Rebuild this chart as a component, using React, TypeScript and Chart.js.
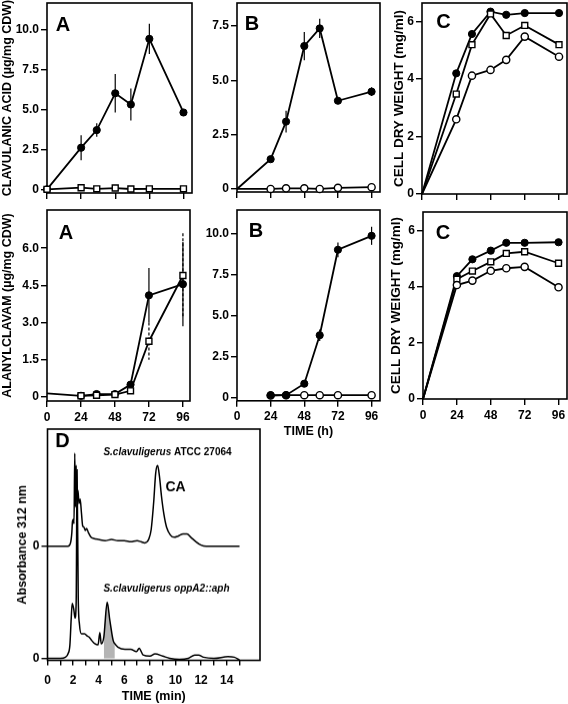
import React, { useEffect, useRef } from "react";
import { Chart, registerables } from "chart.js";

Chart.register(...registerables);

const FONT = '"Liberation Sans", Arial, Helvetica, sans-serif';
Chart.defaults.color = "#000";
Chart.defaults.font.family = FONT;

// ---------------- data ----------------
const HOURS = [0, 24, 35, 48, 59, 72, 96];
const HOUR_TICKS = [0, 24, 48, 72, 96];
const HOUR_LABELS = ["0", "24", "48", "72", "96"];
const NO_LABELS = ["", "", "", "", ""];

// Top row A: clavulanic acid
const TOP_A_WT = [0, 2.6, 3.7, 6.0, 5.3, 9.4, 4.8];
const TOP_A_WT_ERR = [0, 0.78, 0.42, 1.2, 1.0, 0.94, 0];
const TOP_A_MUT = [0, 0.1, 0.03, 0.08, 0.02, 0.03, 0.03];
const TOP_A_TICKS = [0, 2.5, 5, 7.5, 10];
const TOP_A_LABELS = ["0", "2.5", "5.0", "7.5", "10.0"];

// Top row B
const TOP_B_WT = [0, 1.37, 3.1, 6.58, 7.39, 4.06, 4.48];
const TOP_B_WT_ERR = [0, 0, 0.5, 0.65, 0.44, 0, 0.2];
const TOP_B_MUT = [0, 0, 0.03, 0.03, 0, 0.05, 0.08];
const TOP_B_TICKS = [0, 2.5, 5, 7.5];
const TOP_B_LABELS = ["0", "2.5", "5.0", "7.5"];

// Top row C: cell dry weight
const TOP_C_FILLED = [0, 4.2, 5.57, 6.35, 6.24, 6.3, 6.3];
const TOP_C_SQUARE = [0, 3.48, 5.2, 6.27, 5.52, 5.87, 5.2];
const TOP_C_OPEN = [0, 2.6, 4.12, 4.32, 4.67, 5.48, 4.78];
const CDW_TICKS = [0, 2, 4, 6];
const CDW_LABELS = ["0", "2", "4", "6"];

// Bottom row A: alanylclavam
const BOT_A_WT = [0.15, 0.05, 0.12, 0.12, 0.5, 4.1, 4.55];
const BOT_A_WT_ERR = [0, 0, 0, 0, 0, 1.1, 1.7];
const BOT_A_MUT = [null, 0.05, 0.07, 0.1, 0.25, 2.25, 4.9];
const BOT_A_MUT_ERR = [0, 0, 0, 0, 0, 0.75, 1.7];
const BOT_A_TICKS = [0, 1.5, 3, 4.5, 6];
const BOT_A_LABELS = ["0", "1.5", "3.0", "4.5", "6.0"];

// Bottom row B
const BOT_B_WT = [null, 0.15, 0.15, 0.85, 3.8, 9.0, 9.85];
const BOT_B_WT_ERR = [0, 0, 0, 0, 0.35, 0.45, 0.55];
const BOT_B_MUT = [null, 0.13, 0.15, 0.15, 0.15, 0.15, 0.15];
const BOT_B_TICKS = [0, 2.5, 5, 7.5, 10];
const BOT_B_LABELS = ["0", "2.5", "5.0", "7.5", "10.0"];

// Bottom row C
const BOT_C_FILLED = [0, 4.39, 4.99, 5.3, 5.58, 5.58, 5.6];
const BOT_C_SQUARE = [0, 4.28, 4.57, 4.9, 5.2, 5.26, 4.85];
const BOT_C_OPEN = [0, 4.07, 4.23, 4.58, 4.67, 4.72, 3.99];

// Panel D: HPLC traces
const D_TOP_T = [0, 1.0, 1.6, 1.8, 1.9, 1.95, 2.02, 2.07, 2.13, 2.18, 2.24, 2.3, 2.38, 2.46, 2.55, 2.65, 2.75, 2.85, 2.95, 3.05, 3.2, 3.4, 3.6, 4.0, 4.5, 5.0, 5.5, 6.0, 6.5, 7.0, 7.3, 7.6, 7.9, 8.1, 8.3, 8.45, 8.6, 8.75, 8.9, 9.1, 9.3, 9.6, 9.9, 10.2, 10.6, 10.9, 11.2, 11.6, 12.0, 12.4, 15.0];
const D_TOP_ABS = [0, 0, 0, 0.03, 0.12, 0.22, 0.24, 0.2, 0.83, 0.35, 0.72, 0.4, 0.5, 0.38, 0.42, 0.3, 0.18, 0.17, 0.14, 0.16, 0.12, 0.08, 0.07, 0.06, 0.05, 0.06, 0.05, 0.05, 0.04, 0.05, 0.04, 0.03, 0.06, 0.15, 0.4, 0.65, 0.72, 0.62, 0.45, 0.28, 0.17, 0.1, 0.08, 0.09, 0.11, 0.11, 0.08, 0.04, 0.01, 0, 0];
const D_TOP_OFFSET = 1.0;
const D_BOT_T = [0, 1.0, 1.4, 1.6, 1.75, 1.85, 1.93, 2.05, 2.15, 2.24, 2.31, 2.4, 2.5, 2.65, 2.9, 3.1, 3.25, 3.45, 3.7, 3.95, 4.09, 4.2, 4.4, 4.66, 4.87, 5.13, 5.26, 5.5, 6.05, 6.5, 6.95, 7.16, 7.47, 8.0, 8.4, 9.0, 9.55, 10.3, 11.0, 11.5, 11.8, 12.2, 13.0, 14.1, 14.6, 15.0];
const D_BOT_ABS = [0, 0, 0.01, 0.04, 0.12, 0.35, 0.49, 0.44, 0.36, 0.5, 1.68, 0.55, 0.3, 0.22, 0.22, 0.2, 0.19, 0.16, 0.13, 0.12, 0.23, 0.13, 0.19, 0.5, 0.34, 0.16, 0.13, 0.1, 0.08, 0.08, 0.06, 0.09, 0.03, 0.02, 0.04, 0.02, 0, -0.01, 0, 0.03, 0.03, 0.01, 0, 0.015, 0.01, -0.015];
const D_SHADE_FROM = 4.4;
const D_SHADE_TO = 5.26;
const D_X_TICKS = [0, 1, 2, 3, 4, 5, 6, 7, 8, 9, 10, 11, 12, 13, 14, 15];
const D_X_LABELS = ["0", "", "2", "", "4", "", "6", "", "8", "", "10", "", "12", "", "14", ""];
const D_Y_TICKS = [0, 1];
const D_Y_LABELS = ["0", "0"];

// ---------------- text ----------------
const T_CA = "CLAVULANIC ACID (\u00b5g/mg CDW)";
const T_AC = "ALANYLCLAVAM (\u00b5g/mg CDW)";
const T_CDW = "CELL DRY WEIGHT (mg/ml)";
const T_TIME_H = "TIME (h)";
const T_TIME_MIN = "TIME (min)";
const T_ABS = "Absorbance 312 nm";
const T_STRAIN_1_IT = "S.clavuligerus";
const T_STRAIN_1 = " ATCC 27064";
const T_STRAIN_2 = "S.clavuligerus oppA2::aph";
const T_CA_PEAK = "CA";

// ---------------- helpers ----------------
type Marker = "filled" | "open" | "square";
type Area = { l: number; t: number; r: number; b: number };
type TextItem = { parts: { text: string; italic?: boolean }[]; x: number; y: number; size: number };

function series(values: (number | null)[], marker: Marker, opts: { hideZero?: boolean; errors?: number[]; dash?: number[] } = {}) {
  const data: any[] = [];
  HOURS.forEach((h, i) => {
    const v = values[i];
    if (v == null) return;
    data.push({ x: h, y: v, e: opts.errors ? opts.errors[i] : 0 });
  });
  const r = marker === "square" ? 4.2 : 3.6;
  return {
    data,
    borderColor: "#000",
    borderWidth: 1.8,
    tension: 0,
    clip: false,
    pointStyle: marker === "square" ? "rect" : "circle",
    pointRadius: data.map((d) => (opts.hideZero && d.x === 0 ? 0 : r)),
    pointBackgroundColor: marker === "filled" ? "#000" : "#fff",
    pointBorderColor: "#000",
    pointBorderWidth: marker === "filled" ? 1 : 1.4,
    errDash: opts.dash || [],
  };
}

const framePlugin = {
  id: "frame",
  beforeDatasetsDraw(chart: any) {
    const { ctx, chartArea: a } = chart;
    ctx.save();
    ctx.strokeStyle = "#000";
    ctx.lineWidth = 1.6;
    ctx.strokeRect(a.left, a.top, a.right - a.left, a.bottom - a.top);
    ctx.restore();
  },
};

const errorPlugin = {
  id: "errbars",
  beforeDatasetsDraw(chart: any) {
    const { ctx } = chart;
    const ys = chart.scales.y;
    chart.data.datasets.forEach((ds: any, i: number) => {
      const meta = chart.getDatasetMeta(i);
      ds.data.forEach((d: any, j: number) => {
        if (!d || !d.e) return;
        const pt = meta.data[j];
        if (!pt) return;
        ctx.save();
        ctx.strokeStyle = "#000";
        ctx.lineWidth = 1.2;
        ctx.setLineDash(ds.errDash || []);
        ctx.beginPath();
        ctx.moveTo(pt.x, ys.getPixelForValue(d.y + d.e));
        ctx.lineTo(pt.x, ys.getPixelForValue(d.y - d.e));
        ctx.stroke();
        ctx.restore();
      });
    });
  },
};

const PAD_TOP = 12;
const PAD_RIGHT = 12;

interface PanelSpec {
  area: Area;
  yW: number;
  xH: number;
  xMin: number;
  xMax: number;
  xTicks: number[];
  xLabels: string[];
  xTickLen?: number;
  xTickPad?: number;
  xTitle?: string;
  yMin: number;
  yMax: number;
  yTicks: number[];
  yLabels: string[];
  yTitle?: string;
  yTitleSize?: number;
  datasets: any[];
  texts: TextItem[];
}

function makePanel(s: PanelSpec) {
  const left = s.area.l - s.yW;
  const top = s.area.t - PAD_TOP;
  const width = s.area.r + PAD_RIGHT - left;
  const height = s.area.b + s.xH - top;
  const textPlugin = {
    id: "texts",
    afterDraw(chart: any) {
      const ctx = chart.ctx;
      ctx.save();
      ctx.fillStyle = "#000";
      ctx.textBaseline = "middle";
      ctx.textAlign = "left";
      for (const it of s.texts) {
        const fonts = it.parts.map((p) => `${p.italic ? "italic " : ""}bold ${it.size}px ${FONT}`);
        const widths = it.parts.map((p, i) => {
          ctx.font = fonts[i];
          return ctx.measureText(p.text).width;
        });
        const total = widths.reduce((a, b) => a + b, 0);
        let x = it.x - left - total / 2;
        it.parts.forEach((p, i) => {
          ctx.font = fonts[i];
          ctx.fillText(p.text, x, it.y - top);
          x += widths[i];
        });
      }
      ctx.restore();
    },
  };
  const tickFont = { family: FONT, size: 12, weight: "bold" as const };
  const config: any = {
    type: "line",
    data: { datasets: s.datasets },
    options: {
      responsive: false,
      devicePixelRatio: 1,
      animation: false,
      events: [],
      layout: { padding: { left: 0, top: PAD_TOP, right: PAD_RIGHT, bottom: 0 } },
      plugins: { legend: { display: false }, tooltip: { enabled: false } },
      scales: {
        x: {
          type: "linear",
          min: s.xMin,
          max: s.xMax,
          afterBuildTicks: (sc: any) => {
            sc.ticks = s.xTicks.map((v) => ({ value: v }));
          },
          afterFit: (sc: any) => {
            sc.height = s.xH;
          },
          grid: { drawOnChartArea: false, drawTicks: true, tickLength: s.xTickLen ?? 6, color: "#000", lineWidth: 1.4 },
          border: { display: false },
          ticks: {
            autoSkip: false,
            maxRotation: 0,
            padding: s.xTickPad ?? 3,
            font: tickFont,
            color: "#000",
            callback: (_v: any, i: number) => s.xLabels[i],
          },
          title: s.xTitle
            ? { display: true, text: s.xTitle, color: "#000", font: { family: FONT, size: 12.5, weight: "bold" }, padding: 0 }
            : { display: false },
        },
        y: {
          type: "linear",
          min: s.yMin,
          max: s.yMax,
          afterBuildTicks: (sc: any) => {
            sc.ticks = s.yTicks.map((v) => ({ value: v }));
          },
          afterFit: (sc: any) => {
            sc.width = s.yW;
          },
          grid: { drawOnChartArea: false, drawTicks: true, tickLength: 6, color: "#000", lineWidth: 1.4 },
          border: { display: false },
          ticks: {
            autoSkip: false,
            padding: 2,
            font: tickFont,
            color: "#000",
            callback: (_v: any, i: number) => s.yLabels[i],
          },
          title: s.yTitle
            ? { display: true, text: s.yTitle, color: "#000", font: { family: FONT, size: s.yTitleSize ?? 12.5, weight: "bold" }, padding: 0 }
            : { display: false },
        },
      },
    },
    plugins: [framePlugin, errorPlugin, textPlugin],
  };
  return { left, top, width, height, config };
}

function ChartBox({ spec }: { spec: PanelSpec }) {
  const ref = useRef<HTMLCanvasElement>(null);
  const p = makePanel(spec);
  useEffect(() => {
    const chart = new Chart(ref.current as HTMLCanvasElement, p.config);
    return () => chart.destroy();
  }, []);
  return (
    <canvas
      ref={ref}
      width={p.width}
      height={p.height}
      style={{ position: "absolute", left: p.left, top: p.top, width: p.width, height: p.height }}
    />
  );
}

const letter = (t: string, x: number, y: number): TextItem => ({ parts: [{ text: t }], x, y, size: 20 });

const dLine = (t: number[], a: number[], offset: number) => ({
  data: t.map((x, i) => ({ x, y: a[i] + offset })),
  borderColor: "#000",
  borderWidth: 1.5,
  pointRadius: 0,
  cubicInterpolationMode: "monotone",
  clip: false,
  order: 1,
});

const PANELS: PanelSpec[] = [
  {
    area: { l: 47, t: 3, r: 192, b: 193 }, yW: 47, xH: 14,
    xMin: 0, xMax: 102, xTicks: HOUR_TICKS, xLabels: NO_LABELS,
    yMin: -0.23, yMax: 11.64, yTicks: TOP_A_TICKS, yLabels: TOP_A_LABELS, yTitle: T_CA,
    datasets: [series(TOP_A_MUT, "square"), series(TOP_A_WT, "filled", { errors: TOP_A_WT_ERR })],
    texts: [letter("A", 63, 25)],
  },
  {
    area: { l: 237, t: 3, r: 380, b: 192 }, yW: 37, xH: 14,
    xMin: 0, xMax: 102, xTicks: HOUR_TICKS, xLabels: NO_LABELS,
    yMin: -0.14, yMax: 8.56, yTicks: TOP_B_TICKS, yLabels: TOP_B_LABELS,
    datasets: [series(TOP_B_MUT, "open", { hideZero: true }), series(TOP_B_WT, "filled", { errors: TOP_B_WT_ERR, hideZero: true })],
    texts: [letter("B", 252, 24)],
  },
  {
    area: { l: 422, t: 3, r: 567, b: 194 }, yW: 31, xH: 14,
    xMin: 0, xMax: 101.6, xTicks: HOUR_TICKS, xLabels: NO_LABELS,
    yMin: 0, yMax: 6.65, yTicks: CDW_TICKS, yLabels: CDW_LABELS, yTitle: T_CDW, yTitleSize: 13.5,
    datasets: [
      series(TOP_C_OPEN, "open", { hideZero: true }),
      series(TOP_C_SQUARE, "square", { hideZero: true }),
      series(TOP_C_FILLED, "filled", { hideZero: true }),
    ],
    texts: [letter("C", 443.5, 22)],
  },
  {
    area: { l: 47, t: 210, r: 190, b: 401 }, yW: 47, xH: 26,
    xMin: 0, xMax: 101, xTicks: HOUR_TICKS, xLabels: HOUR_LABELS,
    yMin: -0.16, yMax: 7.54, yTicks: BOT_A_TICKS, yLabels: BOT_A_LABELS, yTitle: T_AC,
    datasets: [
      series(BOT_A_MUT, "square", { errors: BOT_A_MUT_ERR, dash: [3, 2] }),
      series(BOT_A_WT, "filled", { errors: BOT_A_WT_ERR, hideZero: true }),
    ],
    texts: [letter("A", 66, 233)],
  },
  {
    area: { l: 237, t: 210, r: 380, b: 401 }, yW: 37, xH: 38.2,
    xMin: 0, xMax: 102, xTicks: HOUR_TICKS, xLabels: HOUR_LABELS, xTitle: T_TIME_H,
    yMin: -0.19, yMax: 11.42, yTicks: BOT_B_TICKS, yLabels: BOT_B_LABELS,
    datasets: [series(BOT_B_WT, "filled", { errors: BOT_B_WT_ERR }), series(BOT_B_MUT, "open")],
    texts: [letter("B", 256, 231)],
  },
  {
    area: { l: 423, t: 212, r: 567, b: 399 }, yW: 35, xH: 28,
    xMin: 0, xMax: 102, xTicks: HOUR_TICKS, xLabels: HOUR_LABELS,
    yMin: 0, yMax: 6.68, yTicks: CDW_TICKS, yLabels: CDW_LABELS, yTitle: T_CDW, yTitleSize: 13.5,
    datasets: [
      series(BOT_C_OPEN, "open", { hideZero: true }),
      series(BOT_C_SQUARE, "square", { hideZero: true }),
      series(BOT_C_FILLED, "filled", { hideZero: true }),
    ],
    texts: [letter("C", 443, 233)],
  },
  {
    area: { l: 47, t: 429, r: 260, b: 660 }, yW: 32.5, xH: 43.5,
    xMin: 0, xMax: 16.6, xTicks: D_X_TICKS, xLabels: D_X_LABELS, xTickLen: 5, xTickPad: 8, xTitle: T_TIME_MIN,
    yMin: -0.018, yMax: 2.045, yTicks: D_Y_TICKS, yLabels: D_Y_LABELS, yTitle: T_ABS,
    datasets: [
      {
        data: D_BOT_T.map((x, i) => ({ x, y: D_BOT_ABS[i] })).filter((d) => d.x >= D_SHADE_FROM && d.x <= D_SHADE_TO),
        borderWidth: 0,
        pointRadius: 0,
        fill: "origin",
        backgroundColor: "#b4b4b4",
        cubicInterpolationMode: "monotone",
        order: 3,
      },
      dLine(D_TOP_T, D_TOP_ABS, D_TOP_OFFSET),
      dLine(D_BOT_T, D_BOT_ABS, 0),
    ],
    texts: [
      letter("D", 62, 441),
      { parts: [{ text: T_STRAIN_1_IT, italic: true }, { text: T_STRAIN_1 }], x: 167, y: 452, size: 10 },
      { parts: [{ text: T_CA_PEAK }], x: 175, y: 487, size: 14 },
      { parts: [{ text: T_STRAIN_2, italic: true }], x: 166, y: 588, size: 10 },
    ],
  },
];

export default function App() {
  return (
    <div style={{ position: "absolute", left: 0, top: 0, width: 568, height: 704, overflow: "hidden", background: "#fff" }}>
      {PANELS.map((spec, i) => (
        <ChartBox key={i} spec={spec} />
      ))}
    </div>
  );
}
